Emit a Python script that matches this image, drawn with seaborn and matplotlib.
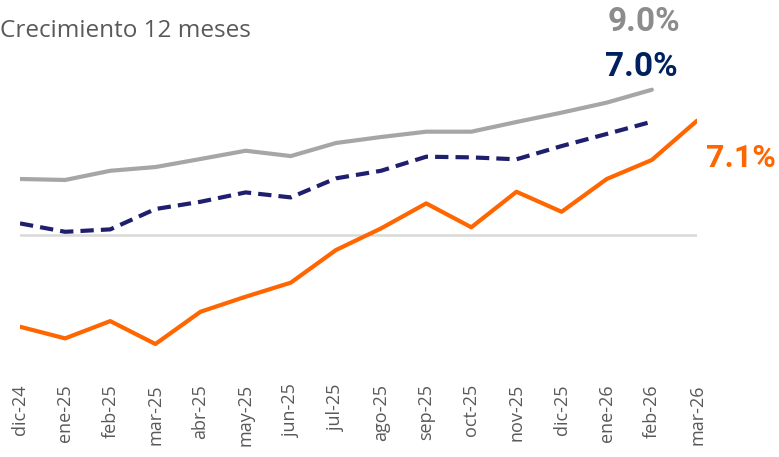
import matplotlib
matplotlib.use("Agg")
from matplotlib import pyplot as plt
import seaborn as sns
import pandas as pd
import numpy as np

months = ['dic-24', 'ene-25', 'feb-25', 'mar-25', 'abr-25', 'may-25', 'jun-25',
          'jul-25', 'ago-25', 'sep-25', 'oct-25', 'nov-25', 'dic-25', 'ene-26',
          'feb-26', 'mar-26']

# crecimiento 12 meses (%)
gris = [3.47, 3.41, 3.98, 4.21, 4.71, 5.22, 4.89, 5.70, 6.07, 6.40, 6.40,
        7.00, 7.58, 8.20, 9.00, np.nan]
azul = [0.72, 0.20, 0.35, 1.61, 2.06, 2.64, 2.33, 3.51, 3.98, 4.85, 4.81,
        4.69, 5.51, 6.26, 7.02, np.nan]
naranja = [-5.68, -6.40, -5.33, -6.75, -4.75, -3.82, -2.95, -0.93, 0.41,
           1.96, 0.48, 2.68, 1.44, 3.47, 4.65, 7.08]

labels = {'gris': '9.0%', 'azul': '7.0%', 'naranja': '7.1%'}
colors = {'gris': '#A6A6A6', 'azul': '#1F1F6E', 'naranja': '#FF6600'}
label_colors = {'gris': '#8C8C8C', 'azul': '#002060', 'naranja': '#FF6600'}

df = pd.DataFrame({'x': range(len(months)), 'gris': gris, 'azul': azul,
                   'naranja': naranja})
df_long = df.melt(id_vars='x', var_name='serie', value_name='valor').dropna()

sns.set_style('white')
plt.rcParams['font.family'] = ['Open Sans', 'DejaVu Sans']

fig = plt.figure(figsize=(7.79, 4.57), dpi=100)
ax = fig.add_axes([20 / 779, 1 - 355 / 457, 677 / 779, 295 / 457])

ax.axhline(0, color='#D9D9D9', lw=1.8, zorder=0)

sns.lineplot(data=df_long, x='x', y='valor', hue='serie', style='serie',
             palette=colors, dashes={'gris': '', 'azul': (3.2, 1.7), 'naranja': ''},
             hue_order=['gris', 'azul', 'naranja'], linewidth=3,
             legend=False, ax=ax)
for line in ax.lines:
    line.set_solid_capstyle('round')
    line.set_solid_joinstyle('round')

ax.set_xlim(0, len(months) - 1)
ax.set_ylim(-7.43, 10.84)
ax.set_xticks(range(len(months)))
ax.set_xticklabels(months, rotation=90, fontsize=13, color='#595959')
ax.tick_params(axis='x', length=0, pad=21)
ax.set_yticks([])
ax.set_xlabel('')
ax.set_ylabel('')
sns.despine(ax=ax, left=True, bottom=True)

fig.text(0.0, 1 - 31 / 457, 'Crecimiento 12 meses', fontsize=17.5, color='#595959',
         ha='left', va='center')

fig.text(644 / 779, 1 - 22 / 457, labels['gris'], fontsize=24, fontweight='bold',
         color=label_colors['gris'], ha='center', va='center', family='Roboto')
fig.text(641 / 779, 1 - 67 / 457, labels['azul'], fontsize=24, fontweight='bold',
         color=label_colors['azul'], ha='center', va='center', family='Roboto')
fig.text(741 / 779, 1 - 158 / 457, labels['naranja'], fontsize=23, fontweight='bold',
         color=label_colors['naranja'], ha='center', va='center', family='Roboto')

fig.savefig('out.png', dpi=100)
